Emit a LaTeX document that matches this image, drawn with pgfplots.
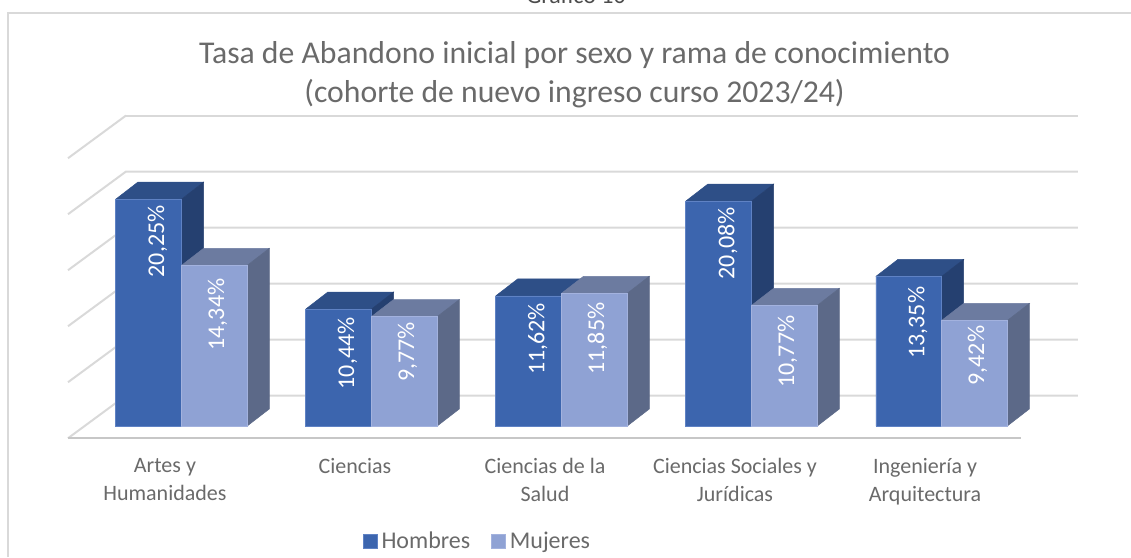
\documentclass[border=0pt]{standalone}
\usepackage{fontspec}
\setmainfont{Carlito}
\usepackage{pgfplots}
\usepackage{pgfplotstable}
\pgfplotsset{compat=1.18}

\definecolor{hfront}{HTML}{3C65AE}
\definecolor{htop}{HTML}{2E4F87}
\definecolor{hside}{HTML}{254070}
\definecolor{hedge}{HTML}{5F82C4}
\definecolor{mfront}{HTML}{8FA2D4}
\definecolor{mtop}{HTML}{6C7BA0}
\definecolor{mside}{HTML}{5C6988}
\definecolor{medge}{HTML}{A3B2DE}
\definecolor{rejilla}{HTML}{D9D9D9}
\definecolor{texto}{HTML}{6A6A6A}

% gap = distance in pt from the bar top to the end of its label
\pgfplotstableread{
x h     m     gaph gapm
0 20.25 14.34 6    13
1 10.44 9.77  8    5
2 11.62 11.85 7    9
3 20.08 10.77 6    10
4 13.35 9.42  10   5
}\datos

\def\bw{0.346}
\def\dx{0.116}
\def\dy{1.518}

% top and side faces of one series, #2 = left edge relative to the category
\newcommand{\caras}[4]{%
  \pgfplotsforeachungrouped \fila in {0,...,4}{%
    \pgfplotstablegetelem{\fila}{#1}\of\datos
    \pgfmathsetmacro\val{\pgfplotsretval}
    \pgfmathsetmacro\xl{\fila+#2}
    \pgfmathsetmacro\xr{\xl+\bw}
    \pgfmathsetmacro\xa{\xl+\dx}
    \pgfmathsetmacro\xb{\xr+\dx}
    \pgfmathsetmacro\vt{\val+\dy}
    \edef\tmp{\noexpand\addplot[forget plot,fill=#3,draw=#3,line width=0.5pt] coordinates {(\xl,\val)(\xr,\val)(\xb,\vt)(\xa,\vt)(\xl,\val)};}\tmp
    \edef\tmp{\noexpand\addplot[forget plot,fill=#4,draw=#4,line width=0.5pt] coordinates {(\xr,0)(\xb,\dy)(\xb,\vt)(\xr,\val)(\xr,0)};}\tmp
  }%
}

\pgfplotsset{
  etiqueta/.style 2 args={
    nodes near coords={\pgfmathprintnumber{\pgfplotspointmeta}\%},
    visualization depends on={\thisrow{#1} \as \labgap},
    nodes near coords style={text=white,font=\fontsize{24}{24}\selectfont,inner sep=0pt,xshift=#2,yshift=-\labgap*1pt,rotate=90,anchor=east},
  },
}

\begin{document}
\begin{tikzpicture}
\path[use as bounding box] (0pt,-112pt) rectangle (1131pt,445pt);
\begin{axis}[
    at={(0pt,0pt)},
    anchor=south west,
    scale only axis,
    width=1131pt,
    height=432pt,
    xmin=-0.955, xmax=4.997,
    ymin=-1.696, ymax=36.875,
    clip=false,
    axis line style={draw=none},
    tick style={draw=none},
    major tick length=0pt,
    ytick=\empty,
    xtick={-0.087,0.913,1.913,2.913,3.913},
    xticklabels={{Artes y\\Humanidades},{Ciencias\\\phantom{x}},{Ciencias de la\\Salud},{Ciencias Sociales y\\Jurídicas},{Ingeniería y\\Arquitectura}},
    x tick label style={font=\fontsize{22}{28}\selectfont,text=texto,align=center,anchor=north,yshift=-10pt},
    title={Tasa de Abandono inicial por sexo y rama de conocimiento\\(cohorte de nuevo ingreso curso 2023/24)},
    title style={font=\fontsize{31.7}{39}\selectfont,text=texto,align=center,at={(0.508,0.928)},anchor=north},
    legend columns=2,
    legend cell align=left,
    legend style={draw=none,fill=none,font=\fontsize{24}{26}\selectfont,text=texto,
      at={(0.4222,-0.222)},anchor=center,
      /tikz/every odd column/.append style={column sep=2pt},
      /tikz/every even column/.append style={column sep=19pt}},
    legend image code/.code={\fill[#1] (0pt,-7pt) rectangle (14pt,7pt);},
    /pgf/number format/assume math mode=true,
    /pgf/number format/.cd,use comma,fixed,fixed zerofill,precision=2,
    /pgfplots/.cd,
]
% back wall, left wall lines and floor
\addplot[forget plot,rejilla,line width=2pt] coordinates {(-0.292,27.72)(4.718,27.72)};
\addplot[forget plot,rejilla,line width=2pt] coordinates {(-0.597,23.91)(-0.292,27.72)};
\addplot[forget plot,rejilla,line width=2pt] coordinates {(-0.597,18.91)(-0.292,22.72)(4.718,22.72)};
\addplot[forget plot,rejilla,line width=2pt] coordinates {(-0.597,13.91)(-0.292,17.72)(4.718,17.72)};
\addplot[forget plot,rejilla,line width=2pt] coordinates {(-0.597,8.91)(-0.292,12.72)(4.718,12.72)};
\addplot[forget plot,rejilla,line width=2pt] coordinates {(-0.597,3.91)(-0.292,7.72)(4.718,7.72)};
\addplot[forget plot,rejilla,line width=2pt] coordinates {(-0.597,-1.09)(-0.292,2.72)(4.718,2.72)};
\addplot[forget plot,color=black!22,line width=2pt] coordinates {(-0.597,-1.09)(4.418,-1.09)};

\caras{h}{-0.346}{htop}{hside}
\addplot[ybar,bar width=\bw,bar shift=-0.173,fill=hfront,draw=hedge,line width=0.6pt,etiqueta={gaph}{-23.9pt}]
  table[x=x,y=h] {\datos};
\addlegendentry{Hombres}
\caras{m}{0}{mtop}{mside}
\addplot[ybar,bar width=\bw,bar shift=0.173,fill=mfront,draw=medge,line width=0.6pt,etiqueta={gapm}{35.9pt}]
  table[x=x,y=m] {\datos};
\addlegendentry{Mujeres}
\end{axis}
% chart frame and the caption cut by the top of the page
\draw[rejilla,line width=1.2pt] (8pt,-112pt) -- (8pt,432pt) -- (1131pt,432pt);
\node[anchor=base,font=\fontsize{24}{24}\selectfont,text=black!70] at (576pt,441pt) {Gráfico 10};
\end{tikzpicture}
\end{document}
